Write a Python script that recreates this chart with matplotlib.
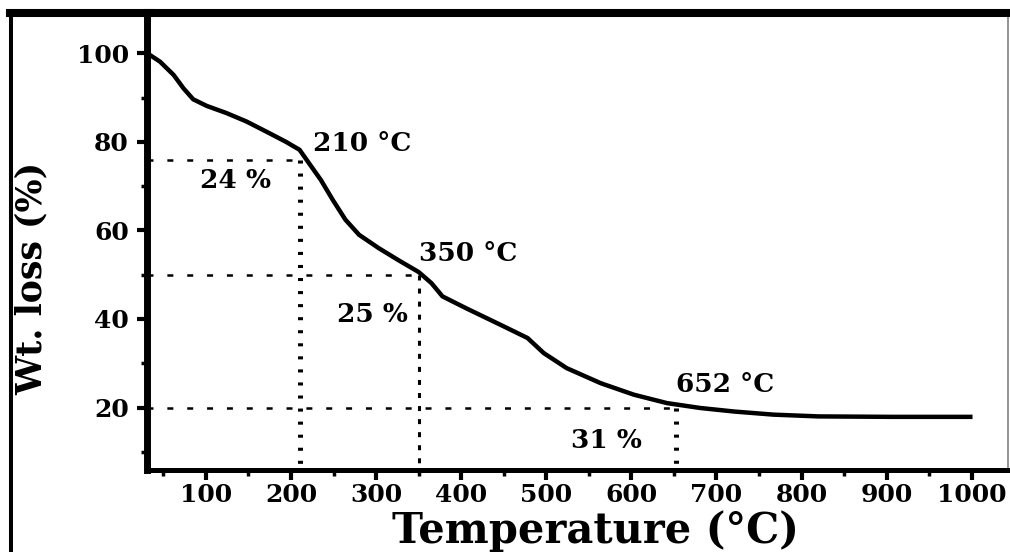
import matplotlib
matplotlib.use("Agg")
import matplotlib.pyplot as plt
from matplotlib.lines import Line2D
from matplotlib.ticker import MultipleLocator

plt.rcParams['font.family'] = ['DejaVu Serif']
plt.rcParams['font.weight'] = 'bold'
plt.rcParams['lines.scale_dashes'] = False

# ---- data ----
temperature = [31, 46, 62, 73.5, 85, 101, 124, 147.5, 171, 194, 210, 221, 235,
               249, 264, 280, 303, 326, 350, 365, 378, 406, 446, 478, 497, 524,
               564, 603, 642, 681, 721, 767, 820, 906, 1001]
weight = [100, 98.1, 95.1, 92.1, 89.6, 88.1, 86.5, 84.6, 82.3, 80.0, 78.2, 75.2,
          71.4, 66.9, 62.4, 59.0, 56.0, 53.3, 50.6, 48.1, 45.1, 42.4, 38.7, 35.7,
          32.3, 28.9, 25.5, 22.9, 21.0, 19.9, 19.1, 18.4, 18.0, 17.9, 17.9]

step_temps = [210, 350, 652]
step_weights = [76, 50, 20]
step_labels = ["210 °C", "350 °C", "652 °C"]
step_label_xy = [(226, 77.9), (350, 53.0), (653, 23.5)]
loss_labels = ["24 %", "25 %", "31 %"]
loss_label_xy = [(135, 69.5), (296, 39.4), (571, 10.8)]

xticks = [100, 200, 300, 400, 500, 600, 700, 800, 900, 1000]
yticks = [20, 40, 60, 80, 100]
xlim = (30.7, 1042.7)
ylim = (5.9, 109.2)

# ---- figure ----
fig = plt.figure(figsize=(10.10, 5.52), dpi=100)
ax = fig.add_axes([147 / 1010, 1 - 470 / 552, (1008 - 147) / 1010, (470 - 12.5) / 552])

ax.plot(temperature, weight, color='black', lw=3.2, solid_capstyle='butt',
        solid_joinstyle='round')

# guide lines
h_styles = [dict(lw=1.8, dashes=(4.3, 10.0)),
            dict(lw=1.8, dashes=(4.3, 10.0)),
            dict(lw=1.8, dashes=(4.3, 10.0))]
v_styles = [dict(lw=3.6, dashes=(2.2, 7.2)),
            dict(lw=2.2, dashes=(3.6, 5.8)),
            dict(lw=3.6, dashes=(2.2, 7.2))]
for t, w, hs, vs in zip(step_temps, step_weights, h_styles, v_styles):
    ax.plot([xlim[0], t], [w, w], color='black', **hs)
    ax.plot([t, t], [w, ylim[0]], color='black', **vs)

for txt, (x, y) in zip(step_labels, step_label_xy):
    ax.text(x, y, txt, fontsize=19, fontweight='bold', ha='left', va='baseline')
for txt, (x, y) in zip(loss_labels, loss_label_xy):
    ax.text(x, y, txt, fontsize=19, fontweight='bold', ha='center', va='baseline')

ax.set_xlim(*xlim)
ax.set_ylim(*ylim)
ax.set_xticks(xticks)
ax.set_yticks(yticks)
ax.xaxis.set_minor_locator(MultipleLocator(50))
ax.yaxis.set_minor_locator(MultipleLocator(10))
ax.tick_params(which='major', direction='out', length=7, width=3, labelsize=18,
               pad=2)
ax.tick_params(which='minor', direction='out', length=4.3, width=2.5)
ax.tick_params(axis='y', which='major', pad=6)
for lab in ax.get_xticklabels() + ax.get_yticklabels():
    lab.set_fontweight('bold')

ax.spines['left'].set_linewidth(5)
ax.spines['top'].set_linewidth(5.8)
ax.spines['bottom'].set_linewidth(3.6)
ax.spines['right'].set_linewidth(1.1)
ax.spines['right'].set_color('#777777')

ax.set_xlabel("Temperature (°C)", fontsize=30, fontweight='bold')
ax.set_ylabel("Wt. loss (%)", fontsize=25, fontweight='bold')
ax.xaxis.label.set_va('center')
ax.yaxis.label.set_va('center')
ax.xaxis.set_label_coords((595 - 147) / 861, (470 - 531) / 457.5)
ax.yaxis.set_label_coords((32 - 147) / 861, (470 - 278) / 457.5)

# outer frame
fig.add_artist(Line2D([10 / 1010, 150 / 1010], [1 - 12.5 / 552, 1 - 12.5 / 552],
                      transform=fig.transFigure, color='black', lw=5.8))
fig.add_artist(Line2D([10.5 / 1010, 10.5 / 1010], [0, 1 - 13 / 552],
                      transform=fig.transFigure, color='black', lw=2.9))

fig.savefig("out.png", dpi=100)
